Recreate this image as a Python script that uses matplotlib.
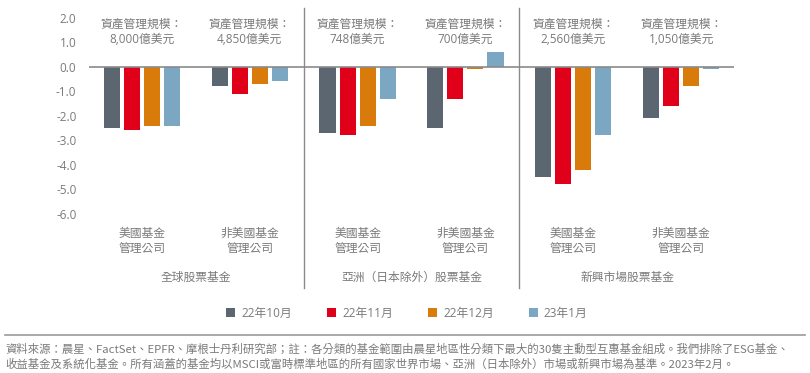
import matplotlib
matplotlib.use("Agg")
import matplotlib.pyplot as plt
from matplotlib.lines import Line2D
import numpy as np

plt.rcParams['font.family'] = ['Open Sans', 'Noto Sans CJK TC', 'DejaVu Sans']

categories = ["美國基金\n管理公司", "非美國基金\n管理公司"] * 3
groups = ["全球股票基金", "亞洲（日本除外）股票基金", "新興市場股票基金"]
aum = ["8,000億美元", "4,850億美元", "748億美元", "700億美元", "2,560億美元", "1,050億美元"]
series_names = ["22年10月", "22年11月", "22年12月", "23年1月"]
oct22 = [-2.5, -0.8, -2.7, -2.5, -4.5, -2.1]
nov22 = [-2.6, -1.1, -2.8, -1.3, -4.8, -1.6]
dec22 = [-2.4, -0.7, -2.4, -0.1, -4.2, -0.8]
jan23 = [-2.4, -0.6, -1.3, 0.6, -2.8, -0.1]
yticks = [2.0, 1.0, 0.0, -1.0, -2.0, -3.0, -4.0, -5.0, -6.0]

colors = ["#5b6670", "#e1001a", "#d97b0b", "#7ba7c2"]
gray = "#7a7a7a"

W, H = 810, 373
fig = plt.figure(figsize=(W / 100, H / 100), dpi=100)

px_per_unit = 24.5
zero_px = 66.7
ytop, ybot = 2.38, -6.3
top_px = zero_px - ytop * px_per_unit
bot_px = zero_px - ybot * px_per_unit
left_px, right_px = 89, 734
ax = fig.add_axes([left_px / W, 1 - bot_px / H, (right_px - left_px) / W, (bot_px - top_px) / H])

x = np.arange(len(categories))
step, width = 0.186, 0.149
data = [oct22, nov22, dec22, jan23]
for i, (vals, c, name) in enumerate(zip(data, colors, series_names)):
    ax.bar(x + (i - 1.5) * step, vals, width=width, color=c, label=name, zorder=2)

ax.set_xlim(-0.49, 5.49)
ax.set_ylim(ybot, ytop)
ax.axhline(0, color="#8a8a8a", lw=1.2, zorder=3)
for s in ax.spines.values():
    s.set_visible(False)
ax.set_xticks([])
ax.set_yticks(yticks)
ax.set_yticklabels([f"{v:.1f}" for v in yticks], color=gray, fontsize=8.5)
ax.tick_params(axis="y", length=0, pad=9)

axh = bot_px - top_px
ymin = -(288 - bot_px) / axh
for xs in [1.5, 3.5]:
    ax.axvline(xs, ymin=ymin, ymax=1, color="#8a8a8a", lw=1, clip_on=False)

def py(p):
    return (zero_px - p) / px_per_unit

for xi, a in zip(x, aum):
    ax.text(xi, py(32), "資產管理規模：\n" + a, ha="center", va="center",
            fontsize=8.5, color=gray, linespacing=1.25)
for xi, c in zip(x, categories):
    ax.text(xi, py(241), c, ha="center", va="center", fontsize=8.5, color=gray,
            linespacing=1.25, clip_on=False)
for gi, g in enumerate(groups):
    ax.text(2 * gi + 0.5, py(277), g, ha="center", va="center", fontsize=8.5,
            color=gray, clip_on=False)

leg = fig.legend(loc="center", bbox_to_anchor=(407 / W, 1 - 313 / H), ncol=4,
                 frameon=False, fontsize=8.5, handlelength=0.75, handleheight=0.75,
                 handletextpad=0.5, columnspacing=3.0, labelcolor=gray)

fig.add_artist(Line2D([5 / W, 805 / W], [1 - 335 / H, 1 - 335 / H], color="#9a9a9a", lw=1.2))

foot1 = "資料來源：晨星、FactSet、EPFR、摩根士丹利研究部；註：各分類的基金範圍由晨星地區性分類下最大的30隻主動型互惠基金組成。我們排除了ESG基金、"
foot2 = "收益基金及系統化基金。所有涵蓋的基金均以MSCI或富時標準地區的所有國家世界市場、亞洲（日本除外）市場或新興市場為基準。2023年2月。"
fig.text(5 / W, 1 - 349 / H, foot1, fontsize=8.2, color=gray, va="center",
         family=['Noto Sans CJK TC', 'DejaVu Sans'])
fig.text(5 / W, 1 - 364 / H, foot2, fontsize=8.2, color=gray, va="center",
         family=['Noto Sans CJK TC', 'DejaVu Sans'])

fig.savefig("out.png", dpi=100)
